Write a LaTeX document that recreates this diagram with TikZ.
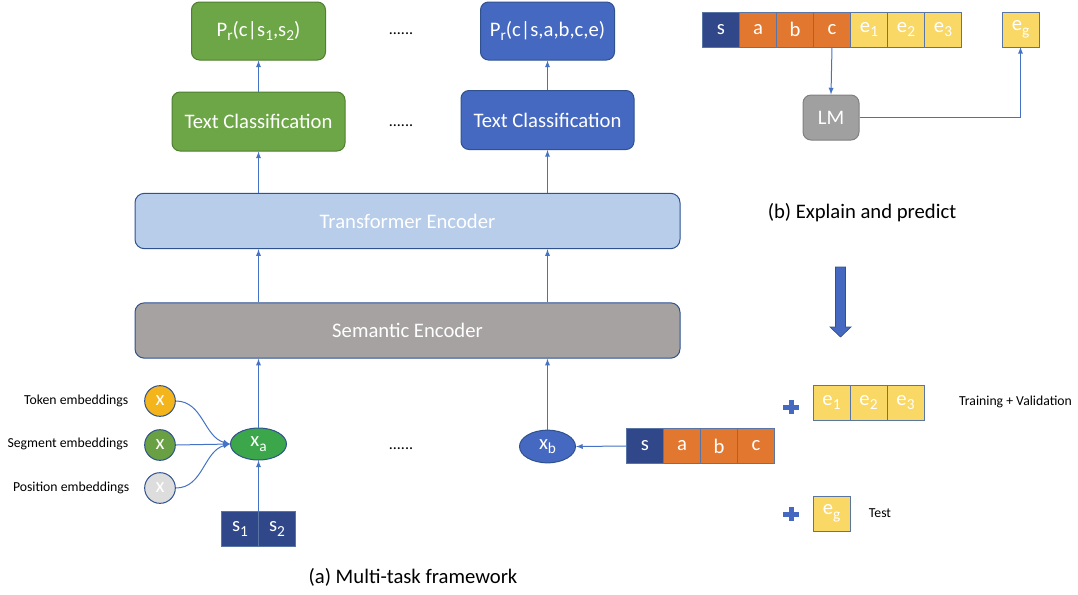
\documentclass[tikz,border=0pt]{standalone}
\usepackage{fontspec}
\setmainfont{Carlito}
\usetikzlibrary{positioning,shapes.geometric}
\definecolor{boxgreen}{HTML}{6CA646}
\definecolor{greenline}{HTML}{507E32}
\definecolor{xagreen}{HTML}{3CA64A}
\definecolor{seggreen}{HTML}{69A043}
\definecolor{tokyellow}{HTML}{F4B41B}
\definecolor{posgray}{HTML}{DDDDDD}
\definecolor{taskblue}{HTML}{4568C0}
\definecolor{blueline}{HTML}{2F528F}
\definecolor{lineblue}{HTML}{4472C4}
\definecolor{lightblue}{HTML}{B7CDEA}
\definecolor{semgray}{HTML}{A5A2A1}
\definecolor{lmgray}{HTML}{A0A0A0}
\definecolor{navy}{HTML}{30488A}
\definecolor{cellorange}{HTML}{E2772F}
\definecolor{cellyellow}{HTML}{F9D866}
\newcommand\bigfont{\fontsize{15.5}{18}\selectfont}
\newcommand\smallfont{\fontsize{10.3}{12}\selectfont}
\newcommand\lowsub[1]{\raisebox{-.45ex}{\fontsize{11.5}{13}\selectfont #1}}
\tikzset{
  taskbox/.style={rounded corners=6pt, line width=.75pt, text=white, font=\bigfont,
    minimum width=129.75pt, minimum height=44.25pt},
  probbox/.style={taskbox, minimum width=100.5pt, minimum height=43.5pt},
  layer/.style={draw=blueline, rounded corners=7pt, line width=.75pt, text=white, font=\bigfont,
    minimum width=408.75pt, minimum height=41.5pt},
  cell/.style={draw=blueline!80, line width=.6pt, text=white, font=\bigfont,
    minimum width=27.75pt, minimum height=26.25pt, inner sep=0pt, outer sep=0pt},
  emb/.style={circle, draw=blueline, line width=.75pt, text=white, font=\bigfont,
    minimum size=23pt, inner sep=0pt},
  flow/.style={->, draw=lineblue, line width=.75pt},
  dots/.style={font=\fontsize{12}{14}\selectfont}
}
\begin{document}
\begin{tikzpicture}[>=latex, x=0.75pt, y=-0.75pt]
    \useasboundingbox (0,0) rectangle (1078,594);
    % (a) multi-task framework
    \node [probbox, fill=boxgreen, draw=greenline] (pr1) at (258.5,31) {P\lowsub{r}(c|s\lowsub{1},s\lowsub{2})};
    \node [probbox, fill=taskblue, draw=blueline] (pr2) at (547.5,31) {P\lowsub{r}(c|s,a,b,c,e)};
    \node [taskbox, fill=boxgreen, draw=greenline] (tc1) at (258.5,121.5) {Text Classification};
    \node [taskbox, fill=taskblue, draw=blueline] (tc2) at (547.5,120) {Text Classification};
    \node [dots] (d1) at (401,34) {......};
    \node [dots] (d2) at (401,126) {......};
    \node [layer, fill=lightblue] (trans) at (407.5,221) {Transformer Encoder};
    \node [layer, fill=semgray] (sem) at (407.5,330.5) {Semantic Encoder};
    \node [ellipse, draw=blueline, fill=xagreen, text=white, font=\bigfont, line width=.75pt,
        minimum width=42pt, minimum height=24pt, inner sep=0pt] (xa) at (258.5,444) {x\lowsub{a}};
    \node [ellipse, draw=blueline, fill=taskblue, text=white, font=\bigfont, line width=.75pt,
        minimum width=42pt, minimum height=24.5pt, inner sep=0pt] (xb) at (547.5,446.5) {x\lowsub{b}};
    \node [dots] (d3) at (401,449) {......};

    \node [emb, fill=tokyellow] (tok) at (160,401) {x};
    \node [emb, fill=seggreen] (seg) at (160,445) {x};
    \node [emb, fill=posgray] (pos) at (160,488) {x};
    \node [anchor=east, font=\smallfont] (tokl) at (133,401) {Token embeddings};
    \node [anchor=east, font=\smallfont] (segl) at (133,444) {Segment embeddings};
    \node [anchor=east, font=\smallfont] (posl) at (134,488) {Position embeddings};

    \node [cell, fill=navy] (s1) at (240,529) {s\lowsub{1}};
    \node [cell, fill=navy, right=0pt of s1] (s2) {s\lowsub{2}};

    \node [cell, fill=navy] (sx) at (645,446) {s};
    \node [cell, fill=cellorange, right=0pt of sx] (ax) {a};
    \node [cell, fill=cellorange, right=0pt of ax] (bx) {b};
    \node [cell, fill=cellorange, right=0pt of bx] (cx) {c};

    \draw [flow] (pr1.south |- tc1.north) -- (pr1.south);
    \draw [flow] (pr2.south |- tc2.north) -- (pr2.south);
    \draw [flow] (tc1.south |- trans.north) -- (tc1.south);
    \draw [flow] (tc2.south |- trans.north) -- (tc2.south);
    \draw [flow] (tc1.south |- sem.north) -- (tc1.south |- trans.south);
    \draw [flow] (tc2.south |- sem.north) -- (tc2.south |- trans.south);
    \draw [flow] (xa.north) -- (xa.north |- sem.south);
    \draw [flow] (xb.north) -- (xb.north |- sem.south);
    \draw [flow] (s1.north east) -- (xa.south);
    \draw [flow] (sx.west) -- (xb.east);
    \draw [flow] (tok.east) to [out=0, in=165] (xa.west);
    \draw [flow] (seg.east) -- (xa.west);
    \draw [flow] (pos.east) to [out=0, in=195] (xa.west);

    \node [font=\bigfont] (capa) at (413,577) {(a) Multi-task framework};

    % (b) explain and predict
    \node [cell, fill=navy] (s) at (721,29.5) {s};
    \node [cell, fill=cellorange, right=0pt of s] (a) {a};
    \node [cell, fill=cellorange, right=0pt of a] (b) {b};
    \node [cell, fill=cellorange, right=0pt of b] (c) {c};
    \node [cell, fill=cellyellow, right=0pt of c] (e1) {e\lowsub{1}};
    \node [cell, fill=cellyellow, right=0pt of e1] (e2) {e\lowsub{2}};
    \node [cell, fill=cellyellow, right=0pt of e2] (e3) {e\lowsub{3}};
    \node [cell, fill=cellyellow] (eg) at (1020.5,29.5) {e\lowsub{g}};
    \node [draw=black!50, fill=lmgray, rounded corners=6pt, line width=.75pt, text=white, font=\bigfont,
        minimum width=42pt, minimum height=33.75pt] (lm) at (831,117.5) {LM};
    \draw [flow] (c.south) -- (lm.north);
    \draw [flow] (lm.east) -| (eg.south);
    \node [font=\bigfont] (capb) at (862,213) {(b) Explain and predict};

    \filldraw [fill=taskblue, draw=blueline, line width=.5pt]
        (835.5,267) -- (845.5,267) -- (845.5,327) -- (851,327) -- (840.5,337) -- (830,327) -- (835.5,327) -- cycle;

    \foreach \y in {407,514}{
        \fill [taskblue] (783,\y-2.5) rectangle (799,\y+2.5);
        \fill [taskblue] (788.5,\y-7) rectangle (793.5,\y+7);
    }
    \node [cell, fill=cellyellow] (t1) at (831.5,402.5) {e\lowsub{1}};
    \node [cell, fill=cellyellow, right=0pt of t1] (t2) {e\lowsub{2}};
    \node [cell, fill=cellyellow, right=0pt of t2] (t3) {e\lowsub{3}};
    \node [font=\smallfont] (trl) at (1015.5,402) {Training + Validation};
    \node [cell, fill=cellyellow] (tg) at (831.5,513.5) {e\lowsub{g}};
    \node [font=\smallfont] (tsl) at (880,513) {Test};
\end{tikzpicture}
\end{document}
